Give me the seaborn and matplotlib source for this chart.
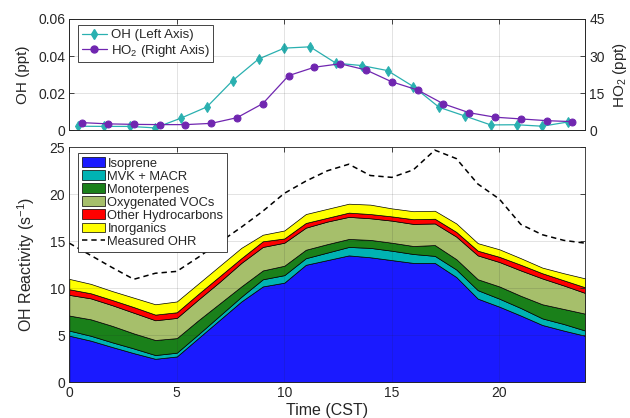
import numpy as np
import pandas as pd
import matplotlib
matplotlib.use("Agg")
import matplotlib.pyplot as plt
import seaborn as sns
from matplotlib.patches import Patch
from matplotlib.lines import Line2D

# top panel: OH and HO2 diel profiles
oh_time = [0.4, 1.6, 2.8, 4.0, 5.2, 6.4, 7.6, 8.8, 10.0, 11.2,
           12.4, 13.6, 14.8, 16.0, 17.2, 18.4, 19.6, 20.8, 22.0, 23.2]
oh_ppt = [0.0022, 0.0021, 0.0021, 0.0013, 0.0066, 0.0126, 0.0268, 0.0384, 0.0443, 0.0450,
          0.0362, 0.0349, 0.0322, 0.0236, 0.0124, 0.0077, 0.0029, 0.0030, 0.0022, 0.0045]
ho2_time = [0.6, 1.8, 3.0, 4.2, 5.4, 6.6, 7.8, 9.0, 10.2, 11.4,
            12.6, 13.8, 15.0, 16.2, 17.4, 18.6, 19.8, 21.0, 22.2, 23.4]
ho2_ppt = [3.1, 2.6, 2.4, 2.3, 2.3, 2.8, 5.1, 10.8, 22.1, 25.5,
           26.9, 24.4, 19.6, 16.3, 10.7, 7.1, 5.3, 4.6, 3.9, 3.5]

# bottom panel: OH reactivity by class (s-1)
hours = list(range(25))
isoprene = [4.96, 4.43, 3.75, 3.1, 2.5, 2.75, 4.7, 6.65, 8.6, 10.2, 10.6, 12.5, 13.0,
            13.5, 13.3, 13.0, 12.7, 12.7, 11.2, 8.9, 8.05, 7.1, 6.1, 5.5, 4.95]
mvk_macr = [0.54, 0.52, 0.5, 0.5, 0.4, 0.4, 0.4, 0.45, 0.5, 0.76, 0.8, 0.7, 0.8,
            0.9, 1.0, 1.0, 0.95, 0.75, 0.8, 0.9, 0.85, 0.8, 0.7, 0.7, 0.55]
monoterp = [1.6, 1.75, 1.75, 1.6, 1.6, 1.55, 1.5, 1.3, 1.1, 0.94, 1.0, 0.9, 0.9,
            0.85, 0.85, 0.85, 0.85, 1.15, 1.1, 1.16, 1.3, 1.3, 1.5, 1.6, 1.8]
ovocs = [2.2, 2.23, 2.2, 2.2, 2.1, 2.15, 2.2, 2.3, 2.5, 2.5, 2.45, 2.35, 2.4,
         2.35, 2.3, 2.35, 2.35, 2.3, 2.4, 2.54, 2.6, 2.7, 2.75, 2.5, 2.2]
other_hc = [0.6, 0.54, 0.55, 0.6, 0.6, 0.6, 0.6, 0.6, 0.5, 0.6, 0.45, 0.5, 0.4,
            0.45, 0.45, 0.45, 0.5, 0.5, 0.5, 0.5, 0.55, 0.6, 0.55, 0.55, 0.6]
inorganics = [1.1, 1.0, 0.95, 1.0, 1.1, 1.15, 1.1, 1.1, 1.1, 0.7, 0.85, 0.95, 0.95,
              0.95, 1.0, 0.85, 0.85, 0.85, 0.9, 0.8, 0.8, 0.7, 0.6, 0.75, 0.95]
measured_ohr = [14.8, 13.5, 12.2, 10.96, 11.6, 11.8, 13.3, 14.9, 16.5, 18.2, 20.1, 21.4, 22.5,
                23.2, 22.0, 21.8, 22.6, 24.7, 23.8, 21.1, 19.5, 16.8, 15.7, 15.1, 14.8]

labels = ["Isoprene", "MVK + MACR", "Monoterpenes", "Oxygenated VOCs",
          "Other Hydrocarbons", "Inorganics"]
colors = ["#1a1aff", "#00b3b3", "#1a801a", "#a6bf6b", "#ff0000", "#ffff00"]

sns.set_theme(style="whitegrid")
plt.rcParams['font.family'] = ['Liberation Sans', 'DejaVu Sans']
plt.rcParams['mathtext.fontset'] = 'custom'
plt.rcParams['mathtext.rm'] = 'Liberation Sans'
plt.rcParams['mathtext.it'] = 'Liberation Sans:italic'

dark = "#262626"
fig = plt.figure(figsize=(6.3, 4.18), dpi=100)
ax1 = fig.add_axes([69.3 / 630, 1 - 130.3 / 418, 516 / 630, 111.3 / 418])
ax3 = fig.add_axes([69.3 / 630, 1 - 382.3 / 418, 516 / 630, 235 / 418])


def style_axis(ax):
    ax.set_facecolor("white")
    for s in ax.spines.values():
        s.set_color(dark)
        s.set_linewidth(0.6)
    ax.tick_params(direction="in", length=3.5, width=0.6, colors=dark,
                   labelsize=10, top=True, right=True, pad=3)
    ax.grid(True, color=dark, alpha=0.15, linewidth=0.6)
    ax.set_axisbelow(False)


# ---- top panel
style_axis(ax1)
sns.lineplot(x=oh_time, y=oh_ppt, ax=ax1, color="#2ab0b0", marker="d",
             markersize=5, markeredgecolor="#2ab0b0", linewidth=0.9, legend=False)
ax1.set_xlim(0, 24)
ax1.set_ylim(0, 0.06)
ax1.set_xticks([0, 5, 10, 15, 20])
ax1.set_xticklabels([])
ax1.set_yticks([0, 0.02, 0.04, 0.06])
ax1.set_yticklabels(["0", "0.02", "0.04", "0.06"])
ax1.set_ylabel("OH (ppt)", fontsize=11, color=dark, labelpad=6)
ax1.tick_params(right=False)

ax2 = ax1.twinx()
sns.lineplot(x=ho2_time, y=ho2_ppt, ax=ax2, color="#7026b0", marker="o",
             markersize=5, markeredgecolor="#7026b0", linewidth=0.9, legend=False)
ax2.set_ylim(0, 45)
ax2.set_yticks([0, 15, 30, 45])
ax2.grid(False)
for s in ax2.spines.values():
    s.set_color(dark)
    s.set_linewidth(0.6)
ax2.tick_params(direction="in", length=3.5, width=0.6, colors=dark, labelsize=10, pad=3)
ax2.set_ylabel("HO$_2$ (ppt)", fontsize=11, color=dark, labelpad=4)

top_handles = [
    Line2D([], [], color="#2ab0b0", marker="d", markersize=5, linewidth=0.9),
    Line2D([], [], color="#7026b0", marker="o", markersize=5, linewidth=0.9),
]
leg1 = ax2.legend(top_handles, ["OH (Left Axis)", "HO$_2$ (Right Axis)"],
                  loc="upper left", bbox_to_anchor=(0.0163, 0.946), borderaxespad=0,
                  fontsize=9.5, frameon=True, fancybox=False, framealpha=1,
                  edgecolor=dark, handlelength=1.9, handletextpad=0.3,
                  labelspacing=0.1, borderpad=0.3)
leg1.get_frame().set_linewidth(0.6)

# ---- bottom panel
style_axis(ax3)
ax3.stackplot(hours, isoprene, mvk_macr, monoterp, ovocs, other_hc, inorganics,
              colors=colors, edgecolor="black", linewidth=0.5)
sns.lineplot(x=hours, y=measured_ohr, ax=ax3, color="black", linewidth=1.1,
             legend=False)
ax3.lines[-1].set_dashes((3.5, 2.6))
ax3.set_xlim(0, 24)
ax3.set_ylim(0, 25)
ax3.set_xticks([0, 5, 10, 15, 20])
ax3.set_yticks([0, 5, 10, 15, 20, 25])
ax3.set_xlabel("Time (CST)", fontsize=11.5, color=dark, labelpad=2)
ax3.set_ylabel("OH Reactivity (s$^{-1}$)", fontsize=11.5, color=dark, labelpad=9)

bottom_handles = [Patch(facecolor=c, edgecolor="black", linewidth=0.5) for c in colors]
bottom_handles.append(Line2D([], [], color="black", linewidth=1.1, dashes=(3.5, 2.6)))
leg2 = ax3.legend(bottom_handles, labels + ["Measured OHR"], loc="upper left",
                  bbox_to_anchor=(0.0163, 0.9745), borderaxespad=0, fontsize=9.3,
                  frameon=True, fancybox=False, framealpha=1, edgecolor=dark,
                  handlelength=1.8, handleheight=0.8, handletextpad=0.2,
                  labelspacing=0.05, borderpad=0.3)
leg2.get_frame().set_linewidth(0.6)

fig.savefig("out.png", dpi=100)
